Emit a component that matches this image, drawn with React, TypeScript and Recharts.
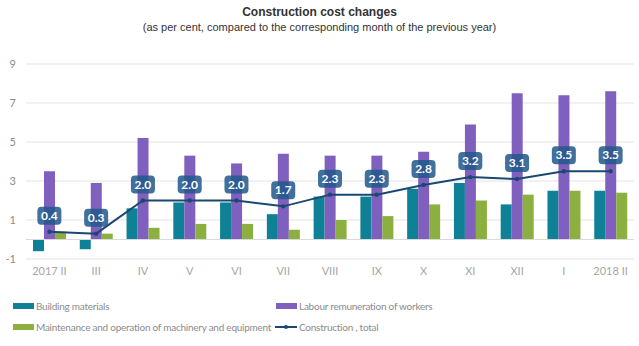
import React from "react";
import {
  ComposedChart,
  Bar,
  Line,
  XAxis,
  YAxis,
  CartesianGrid,
  ReferenceLine,
  LabelList,
} from "recharts";

const months = ["2017 II", "III", "IV", "V", "VI", "VII", "VIII", "IX", "X", "XI", "XII", "I", "2018 II"];
const buildingMaterials = [-0.6, -0.5, 1.6, 1.9, 1.9, 1.3, 2.2, 2.2, 2.6, 2.9, 1.8, 2.5, 2.5];
const labour = [3.5, 2.9, 5.2, 4.3, 3.9, 4.4, 4.3, 4.3, 4.5, 5.9, 7.5, 7.4, 7.6];
const machinery = [0.4, 0.3, 0.6, 0.8, 0.8, 0.5, 1.0, 1.2, 1.8, 2.0, 2.3, 2.5, 2.4];
const constructionTotal = [0.4, 0.3, 2.0, 2.0, 2.0, 1.7, 2.3, 2.3, 2.8, 3.2, 3.1, 3.5, 3.5];
const yTicks = [-1, 1, 3, 5, 7, 9];

const data = months.map((m, i) => ({
  month: m,
  building: buildingMaterials[i],
  labour: labour[i],
  machinery: machinery[i],
  total: constructionTotal[i],
}));

const TEAL = "#0f8196";
const PURPLE = "#8060be";
const GREEN = "#8cb040";
const NAVY = "#1b4871";

const font = "Lato, 'Open Sans', sans-serif";

// rounded box label drawn above each point of the total line
const BoxLabel = (props: any) => {
  const { x, y, value } = props;
  const cy = y - 16;
  return (
    <g>
      <rect x={x - 12} y={cy - 9} width={24} height={18} rx={4} fill="rgb(33,89,139)" fillOpacity={0.86} />
      <text x={x} y={cy + 4} textAnchor="middle" fill="#fff" fontSize={12} fontWeight="bold" fontFamily={font}>
        {Number(value).toFixed(1)}
      </text>
    </g>
  );
};

const legendText: React.CSSProperties = {
  position: "absolute",
  fontFamily: font,
  fontSize: 10,
  letterSpacing: "-0.25px",
  color: "#8c8c8c",
  lineHeight: "12px",
  whiteSpace: "nowrap",
};

export default function App() {
  return (
    <div style={{ position: "absolute", left: 0, top: 0, width: 639, height: 346, background: "#fff" }}>
      <div
        style={{
          position: "absolute",
          top: 5,
          width: 639,
          textAlign: "center",
          fontFamily: "'Liberation Sans', Arial, sans-serif",
          color: "#333",
        }}
      >
        <div style={{ fontSize: 12, fontWeight: "bold", lineHeight: "15px" }}>Construction cost changes</div>
        <div style={{ fontSize: 11, lineHeight: "14px" }}>
          (as per cent, compared to the corresponding month of the previous year)
        </div>
      </div>

      <div style={{ position: "absolute", left: 0, top: 0 }}>
        <ComposedChart
          width={639}
          height={346}
          data={data}
          margin={{ top: 64, right: 5, left: 0, bottom: 67 }}
          barGap={0}
        >
          <CartesianGrid vertical={false} stroke="#e3e3e3" />
          <XAxis
            dataKey="month"
            axisLine={false}
            tickLine={false}
            interval={0}
            height={20}
            tick={{ fill: "#a6a6a6", fontSize: 11, fontFamily: font }}
          />
          <YAxis
            domain={[-1, 9]}
            ticks={yTicks}
            width={26}
            axisLine={false}
            tickLine={false}
            tickSize={0}
            tickMargin={10}
            tick={{ fill: "#8c8c8c", fontSize: 11, fontFamily: font }}
          />
          <ReferenceLine y={0} stroke="#d9d9d9" />
          <Bar dataKey="building" fill={TEAL} barSize={11} isAnimationActive={false} />
          <Bar dataKey="labour" fill={PURPLE} barSize={11} isAnimationActive={false} />
          <Bar dataKey="machinery" fill={GREEN} barSize={11} isAnimationActive={false} />
          <Line
            dataKey="total"
            stroke={NAVY}
            strokeWidth={2}
            dot={{ r: 2.2, fill: NAVY, stroke: NAVY, strokeWidth: 0 }}
            isAnimationActive={false}
          >
            <LabelList dataKey="total" content={BoxLabel} />
          </Line>
        </ComposedChart>
      </div>

      {/* legend */}
      <div style={{ position: "absolute", left: 13, top: 303, width: 21, height: 6, background: TEAL }} />
      <div style={{ ...legendText, left: 36, top: 300 }}>Building materials</div>
      <div style={{ position: "absolute", left: 276, top: 303, width: 21, height: 6, background: PURPLE }} />
      <div style={{ ...legendText, left: 299, top: 300 }}>Labour remuneration of workers</div>
      <div style={{ position: "absolute", left: 13, top: 324, width: 21, height: 6, background: GREEN }} />
      <div style={{ ...legendText, left: 36, top: 321 }}>Maintenance and operation of machinery and equipment</div>
      <div style={{ position: "absolute", left: 275, top: 326, width: 22, height: 2, background: NAVY }} />
      <div style={{ position: "absolute", left: 284, top: 325, width: 4, height: 4, borderRadius: 2, background: NAVY }} />
      <div style={{ ...legendText, left: 299, top: 321 }}>Construction , total</div>
    </div>
  );
}
